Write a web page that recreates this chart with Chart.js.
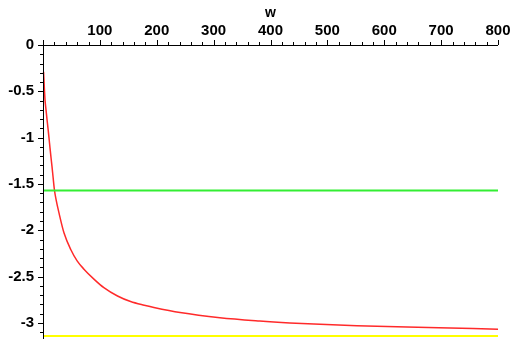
<!DOCTYPE html>
<html>
<head>
<meta charset="utf-8">
<script src="https://cdn.jsdelivr.net/npm/chart.js@4.4.0/dist/chart.umd.min.js"></script>
<style>
  html, body { margin: 0; padding: 0; background: #fff; }
  #wrap { width: 513px; height: 340px; position: relative; }
</style>
</head>
<body>
<div id="wrap"><canvas id="phaseChart"></canvas></div>
<script>
// values
const wValues     = [1, 3.5, 5.3, 7, 8.8, 10.5, 12.3, 14, 15.8, 17.6, 20, 23, 28, 37, 49, 60, 72, 90, 107, 131, 154, 178, 195, 241, 311, 381, 434, 487, 552, 640, 756, 800];
const phaseValues = [-0.29, -0.59, -0.70, -0.80, -0.90, -1.00, -1.11, -1.21, -1.31, -1.42, -1.56, -1.67, -1.81, -2.03, -2.21, -2.33, -2.42, -2.53, -2.62, -2.71, -2.77, -2.81, -2.834, -2.889, -2.945, -2.98, -3.00, -3.015, -3.03, -3.045, -3.06, -3.068];
const greenX = [0, 800];
const greenY = [-Math.PI / 2, -Math.PI / 2];
const yellowX = [0, 800];
const yellowY = [-Math.PI, -Math.PI];
const xTickLabels = [100, 200, 300, 400, 500, 600, 700, 800];
const yTickLabels = [0, -0.5, -1, -1.5, -2, -2.5, -3];

const pts = (xs, ys) => xs.map((x, i) => ({x: x, y: ys[i]}));

// little tick marks like the maple axes
const mapleTicks = {
  id: 'mapleTicks',
  afterDraw(chart) {
    const ctx = chart.ctx, xs = chart.scales.x, ys = chart.scales.y;
    const x0 = xs.left, y0 = ys.top;
    ctx.save();
    ctx.strokeStyle = '#000';
    ctx.lineWidth = 1;
    ctx.beginPath();
    ctx.moveTo(x0 - 5, y0 + 0.5); ctx.lineTo(xs.right, y0 + 0.5);
    ctx.moveTo(x0 + 0.5, y0 - 5); ctx.lineTo(x0 + 0.5, ys.bottom + 3);
    for (let v = 20; v <= 800; v += 20) {
      const px = Math.round(xs.getPixelForValue(v)) + 0.5;
      const len = v % 100 === 0 ? 5 : 3;
      ctx.moveTo(px, y0); ctx.lineTo(px, y0 - len);
    }
    for (let k = 0; k <= 31; k++) {
      const v = -k / 10;
      const py = Math.round(ys.getPixelForValue(v)) + 0.5;
      const len = k % 5 === 0 ? 5 : 3;
      ctx.moveTo(x0, py); ctx.lineTo(x0 - len, py);
    }
    ctx.stroke();
    ctx.restore();
  }
};

const font = {family: "'Liberation Sans', Arial, sans-serif", size: 15, weight: 'bold'};

new Chart(document.getElementById('phaseChart').getContext('2d'), {
  type: 'line',
  data: {
    datasets: [
      {data: pts(greenX, greenY), borderColor: '#33ee33', borderWidth: 2, pointRadius: 0, clip: false},
      {data: pts(yellowX, yellowY), borderColor: '#ffff00', borderWidth: 2, pointRadius: 0, clip: false},
      {data: pts(wValues, phaseValues), borderColor: '#ff2a2a', borderWidth: 1.5, pointRadius: 0,
       cubicInterpolationMode: 'monotone', clip: false}
    ]
  },
  options: {
    responsive: true,
    maintainAspectRatio: false,
    animation: false,
    layout: {padding: {left: 0, top: 0, right: 15, bottom: 4}},
    plugins: {legend: {display: false}, tooltip: {enabled: false}},
    scales: {
      x: {
        type: 'linear', position: 'top', min: 0, max: 800,
        grid: {display: false, drawTicks: false},
        border: {display: false},
        title: {display: true, text: 'w', color: '#000', font: {...font, size: 14}, padding: {top: 5, bottom: 0}},
        ticks: {autoSkip: false, maxRotation: 0, color: '#000', font: font, padding: 5},
        afterBuildTicks: s => { s.ticks = xTickLabels.map(v => ({value: v})); },
        afterFit: s => { s.height = 45; s.paddingLeft = 0; s.paddingRight = 0; }
      },
      y: {
        type: 'linear', min: -Math.PI, max: 0,
        grid: {display: false, drawTicks: false},
        border: {display: false},
        ticks: {autoSkip: false, color: '#000', font: font, padding: 9,
                callback: v => String(Math.round(v * 10) / 10)},
        afterBuildTicks: s => { s.ticks = yTickLabels.map(v => ({value: v})); },
        afterFit: s => { s.width = 43; s.paddingTop = 0; s.paddingBottom = 0; }
      }
    }
  },
  plugins: [mapleTicks]
});
</script>
</body>
</html>
